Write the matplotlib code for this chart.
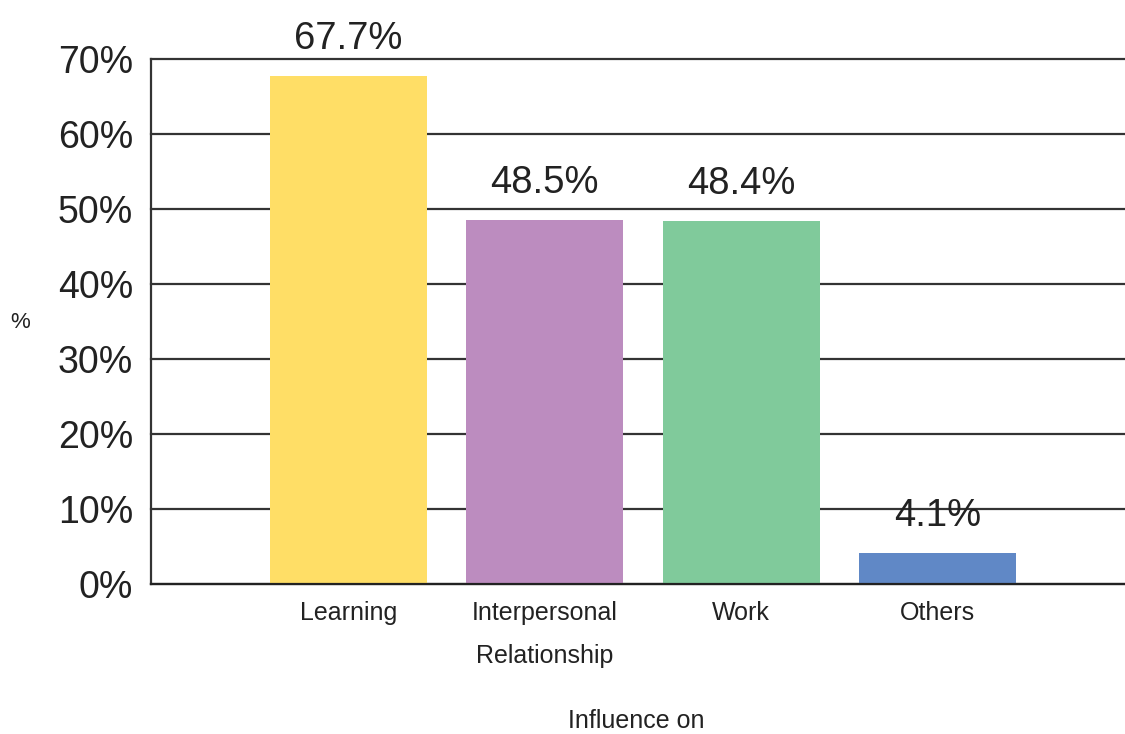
import matplotlib
matplotlib.use("Agg")
import matplotlib.pyplot as plt

categories = ["Learning", "Interpersonal\nRelationship", "Work", "Others"]
values = [67.7, 48.5, 48.4, 4.1]
colors = ["#FFDE66", "#BC8CBF", "#80CA9B", "#6088C6"]
yticks = [0, 10, 20, 30, 40, 50, 60, 70]

plt.rcParams['font.family'] = ['Liberation Sans', 'DejaVu Sans']

fig = plt.figure(figsize=(11.25, 7.34), dpi=100)
ax = fig.add_axes([151/1125, 1 - 584/734, 1 - 151/1125, (584 - 59)/734])

x = list(range(len(categories)))
bars = ax.bar(x, values, width=0.8, color=colors, zorder=3)
ax.set_xlim(-1.006, 3.956)
ax.set_ylim(0, 70)

ax.set_yticks(yticks)
ax.set_yticklabels([f"{v}%" for v in yticks], fontsize=27, color="#222222")
ax.set_xticks(x)
ax.set_xticklabels(categories, fontsize=18, color="#222222", linespacing=2.0, va="top")
ax.tick_params(axis="y", length=0, pad=13)
ax.tick_params(axis="x", length=0, pad=12)

ax.yaxis.grid(True, color="#333333", linewidth=1.6, zorder=1)
for gl in ax.get_ygridlines():
    gl.set_clip_on(False)
ax.set_axisbelow(True)
for s in ["top", "right"]:
    ax.spines[s].set_visible(False)
ax.spines["left"].set_color("#333333")
ax.spines["left"].set_linewidth(1.6)
ax.spines["bottom"].set_color("#222222")
ax.spines["bottom"].set_linewidth(1.6)
ax.spines["bottom"].set_zorder(4)

for xi, v in zip(x, values):
    ax.annotate(f"{v}%", (xi, v), xytext=(0, 19.5), textcoords="offset points",
                ha="center", va="baseline", fontsize=27.5, color="#222222")

fig.text(20/1125, 1 - 323/734, "%", fontsize=16, ha="center", va="center", color="#222222")
fig.text(636/1125, 1 - 721/734, "Influence on", fontsize=18, ha="center", va="center", color="#222222")

fig.savefig("out.png", dpi=100)
